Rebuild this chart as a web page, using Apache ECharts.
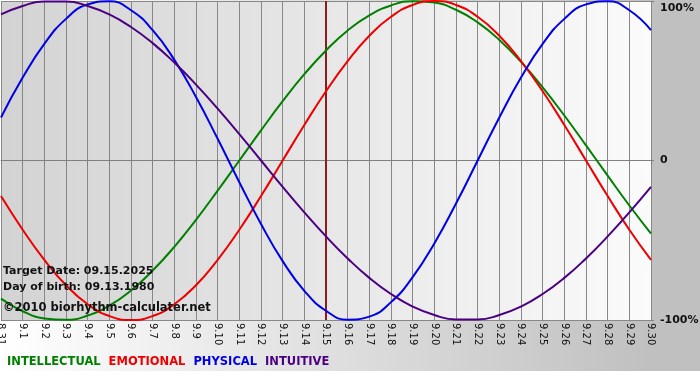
<!DOCTYPE html>
<html>
<head>
<meta charset="utf-8">
<script src="https://cdn.jsdelivr.net/npm/echarts@6/dist/echarts.min.js"></script>
<style>html,body{margin:0;padding:0;background:#fff}#c{width:700px;height:380px}</style>
</head>
<body>
<div id="c"></div>
<script>
var days = ['8.31','9.1','9.2','9.3','9.4','9.5','9.6','9.7','9.8','9.9','9.10','9.11','9.12','9.13','9.14','9.15','9.16','9.17','9.18','9.19','9.20','9.21','9.22','9.23','9.24','9.25','9.26','9.27','9.28','9.29','9.30'];
var intellectual = [-86.6,-94.5,-99.0,-99.9,-97.2,-91.0,-81.5,-69.0,-54.1,-37.2,-18.9,0,18.9,37.2,54.1,69.0,81.5,91.0,97.2,99.9,99.0,94.5,86.6,75.6,61.8,45.8,28.2,9.5,-9.5,-28.2,-45.8];
var emotional = [-22.3,-43.4,-62.3,-78.2,-90.1,-97.5,-100,-97.5,-90.1,-78.2,-62.3,-43.4,-22.3,0,22.3,43.4,62.3,78.2,90.1,97.5,100,97.5,90.1,78.2,62.3,43.4,22.3,0,-22.3,-43.4,-62.3];
var physical = [27.0,52.0,73.1,88.8,97.9,99.8,94.2,81.7,63.1,39.8,13.6,-13.6,-39.8,-63.1,-81.7,-94.2,-99.8,-97.9,-88.8,-73.1,-52.0,-27.0,0,27.0,52.0,73.1,88.8,97.9,99.8,94.2,81.7];
var intuitive = [91.6,96.9,99.7,99.7,96.9,91.6,83.7,73.6,61.4,47.6,32.5,16.5,0,-16.5,-32.5,-47.6,-61.4,-73.6,-83.7,-91.6,-96.9,-99.7,-99.7,-96.9,-91.6,-83.7,-73.6,-61.4,-47.6,-32.5,-16.5];
var targetDay = '9.15';
var yTicks = {'100':'100%','0':'0','-100':'-100%'};

var names = ['INTELLECTUAL','EMOTIONAL','PHYSICAL','INTUITIVE'];
var colors = ['#008000','#ee0000','#0000e6','#4b0082'];
var datas = [intellectual, emotional, physical, intuitive];
var FONT = 'DejaVu Sans';

var chart = echarts.init(document.getElementById('c'), null, {renderer:'canvas'});
var series = datas.map(function(d,i){
  return {name:names[i], type:'line', data:d, smooth:true, symbol:'none',
    lineStyle:{color:colors[i], width:2}, itemStyle:{color:colors[i]}, z:3+i, animation:false};
});
series[0].markLine = {silent:true, symbol:'none', label:{show:false},
  lineStyle:{color:'#8a1c1c', width:2, type:'solid'}, data:[{xAxis:targetDay}], z:2};

chart.setOption({
  animation:false,
  backgroundColor:{type:'linear',x:0,y:0,x2:1,y2:0,colorStops:[{offset:0,color:'#ffffff'},{offset:0.93,color:'#c0c0c0'},{offset:1,color:'#c0c0c0'}]},
  graphic:[
    {type:'rect', left:0, top:371, shape:{width:700,height:9}, style:{fill:'#ffffff'}, z:-1},
    {type:'rect', left:652, top:0, shape:{width:48,height:371}, style:{fill:'#c0c0c0'}, z:-1},
    {type:'text', left:3, top:266, z:100, style:{text:'Target Date: 09.15.2025', font:'bold 11px "DejaVu Sans"', fill:'#111'}},
    {type:'text', left:3, top:282, z:100, style:{text:'Day of birth: 09.13.1980', font:'bold 11px "DejaVu Sans"', fill:'#111'}},
    {type:'text', left:3, top:302, z:100, style:{text:'\u00a92010 biorhythm-calculater.net', font:'bold 11.5px "DejaVu Sans"', fill:'#111'}}
  ],
  grid:{left:1, right:49, top:1, bottom:60, show:true, borderWidth:0, containLabel:false, outerBoundsMode:'none',
    backgroundColor:{type:'linear',x:0,y:0,x2:1,y2:0,colorStops:[{offset:0,color:'#d3d3d3'},{offset:1,color:'#fbfbfb'}]}},
  legend:{left:-3, top:351, icon:'rect', itemWidth:0, itemHeight:0, itemGap:3, selectedMode:false,
    textStyle:{fontFamily:FONT, fontWeight:'bold', fontSize:11.5},
    data:names.map(function(n,i){return {name:n, textStyle:{color:colors[i]}};})},
  xAxis:{type:'category', data:days, boundaryGap:false,
    axisLine:{show:true, lineStyle:{color:'#808080'}},
    axisTick:{show:true, alignWithLabel:true, length:5, lineStyle:{color:'#808080'}},
    splitLine:{show:true, lineStyle:{color:'#888888', width:1}},
    axisLabel:{interval:0, rotate:-90, margin:3, fontFamily:FONT, fontSize:10, color:'#111'}},
  yAxis:{type:'value', position:'right', min:-100, max:100, interval:100,
    axisLine:{show:false},
    axisTick:{show:true, length:3, lineStyle:{color:'#808080'}},
    splitLine:{show:true, lineStyle:{color:'#888888', width:1}},
    axisLabel:{margin:9, fontFamily:FONT, fontWeight:'bold', fontSize:11, color:'#111',
      verticalAlignMaxLabel:'top', padding:[2,0,0,0],
      formatter:function(v){return yTicks[String(v)];}}},
  series:series
});
</script>
</body>
</html>
